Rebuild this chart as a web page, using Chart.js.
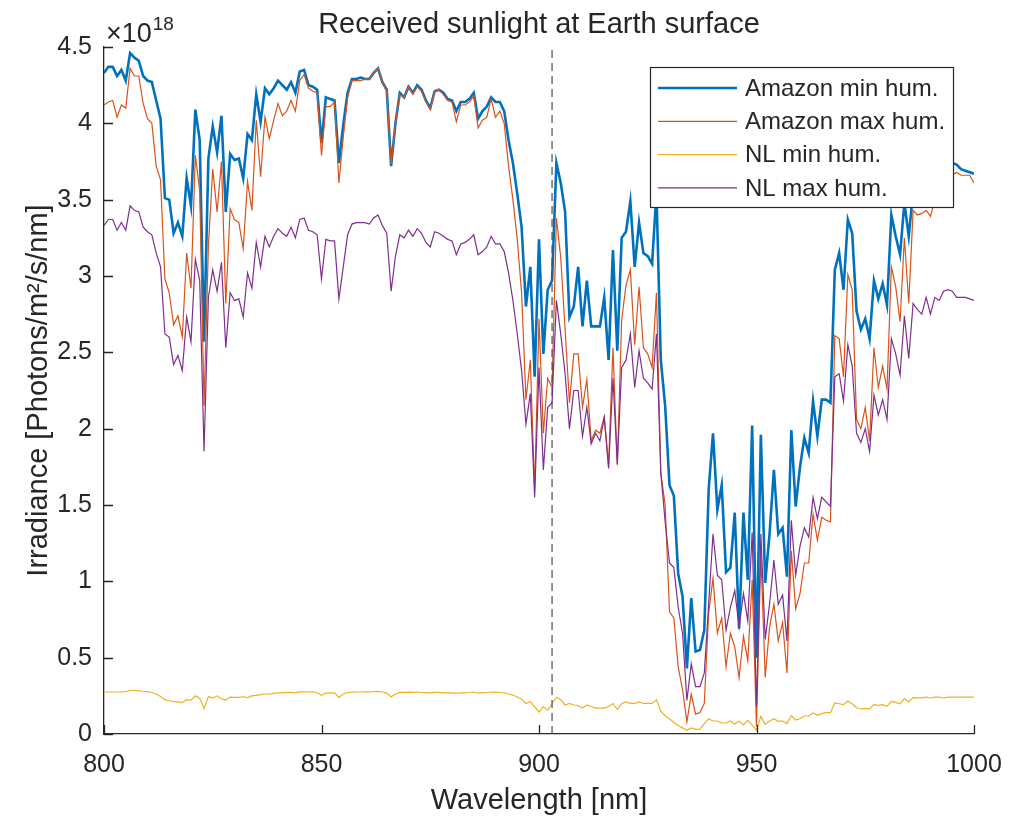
<!DOCTYPE html>
<html>
<head>
<meta charset="utf-8">
<title>Received sunlight at Earth surface</title>
<script src="https://cdn.jsdelivr.net/npm/chart.js@4.4.1/dist/chart.umd.min.js"></script>
<style>
  html, body { margin: 0; padding: 0; background: #fff; }
  #wrap { width: 1009px; height: 821px; }
</style>
</head>
<body>
<div id="wrap"><canvas id="sunChart" width="1009" height="821"></canvas></div>
<script>
// Wavelength grid, 1 nm steps from 800 to 1000 nm
const wavelengths = Array.from({ length: 201 }, (_, i) => 800 + i);

// Irradiance in units of 1e18 photons/m^2/s/nm
const amazonMin = [
  4.33, 4.37, 4.37, 4.31, 4.35, 4.28, 4.46, 4.43, 4.41, 4.31,
  4.28, 4.27, 4.15, 4.03, 3.51, 3.50, 3.28, 3.35, 3.26, 3.64,
  3.46, 4.09, 3.89, 2.57, 3.77, 3.98, 3.81, 4.05, 3.42, 3.80,
  3.76, 3.77, 3.64, 3.93, 3.89, 4.19, 4.01, 4.23, 4.19, 4.23,
  4.28, 4.25, 4.22, 4.27, 4.20, 4.34, 4.35, 4.25, 4.24, 4.22,
  3.87, 4.17, 4.16, 4.15, 3.74, 3.99, 4.20, 4.29, 4.29, 4.30,
  4.29, 4.29, 4.33, 4.36, 4.27, 4.22, 3.72, 4.00, 4.20, 4.17,
  4.24, 4.20, 4.25, 4.22, 4.15, 4.10, 4.21, 4.22, 4.20, 4.16,
  4.15, 4.08, 4.14, 4.14, 4.16, 4.20, 4.03, 4.08, 4.11, 4.17,
  4.14, 4.14, 4.08, 3.89, 3.74, 3.54, 3.32, 2.80, 3.06, 2.34,
  3.24, 2.49, 2.91, 2.97, 3.74, 3.61, 3.42, 2.73, 2.80, 3.06,
  2.67, 2.97, 2.67, 2.67, 2.67, 2.86, 2.45, 3.17, 2.51, 3.25,
  3.29, 3.49, 3.06, 3.35, 3.15, 3.13, 3.08, 3.55, 2.45, 2.15,
  1.63, 1.56, 1.05, 0.90, 0.43, 0.89, 0.54, 0.55, 0.68, 1.60,
  1.97, 1.47, 1.63, 1.06, 1.09, 1.45, 0.69, 1.45, 1.01, 2.02,
  0.50, 1.96, 0.99, 1.31, 1.73, 1.31, 1.35, 1.03, 1.99, 1.49,
  1.75, 1.94, 1.84, 2.18, 1.95, 2.19, 2.19, 2.17, 3.04, 3.15,
  2.91, 3.37, 3.28, 2.77, 2.65, 2.72, 2.59, 2.97, 2.85, 2.95,
  2.81, 3.40, 3.26, 3.14, 3.48, 3.26, 3.55, 3.70, 3.65, 3.75,
  3.72, 3.78, 3.70, 3.76, 3.78, 3.74, 3.73, 3.70, 3.69, 3.68,
  3.67
];

const amazonMax = [
  4.12, 4.14, 4.15, 4.04, 4.12, 4.10, 4.36, 4.31, 4.31, 4.13,
  4.03, 4.00, 3.72, 3.63, 2.98, 2.89, 2.68, 2.74, 2.60, 3.15,
  2.92, 3.79, 3.56, 2.15, 3.20, 3.70, 3.42, 3.75, 2.82, 3.44,
  3.37, 3.35, 3.18, 3.62, 3.43, 4.02, 3.65, 4.04, 3.90, 4.02,
  4.13, 4.05, 4.08, 4.15, 4.08, 4.28, 4.32, 4.23, 4.21, 4.20,
  3.79, 4.11, 4.11, 4.14, 3.61, 3.91, 4.17, 4.28, 4.28, 4.28,
  4.29, 4.29, 4.33, 4.36, 4.27, 4.21, 3.73, 4.00, 4.19, 4.17,
  4.24, 4.19, 4.24, 4.21, 4.14, 4.09, 4.21, 4.22, 4.19, 4.15,
  4.14, 4.01, 4.12, 4.12, 4.14, 4.18, 3.97, 4.02, 4.04, 4.16,
  4.04, 4.08, 4.00, 3.72, 3.50, 3.24, 2.89, 2.19, 2.45, 1.60,
  2.72, 1.97, 2.33, 2.27, 3.38, 3.12, 2.65, 2.17, 2.49, 2.49,
  2.14, 2.32, 1.92, 1.99, 1.97, 2.08, 1.76, 2.53, 1.76, 2.71,
  2.94, 3.04, 2.55, 2.93, 2.53, 2.49, 2.40, 2.89, 1.71, 1.50,
  0.80, 0.76, 0.44, 0.29, 0.08, 0.26, 0.13, 0.14, 0.20, 0.79,
  1.02, 0.66, 0.76, 0.44, 0.66, 0.57, 0.37, 0.64, 0.48, 1.01,
  0.05, 1.18, 0.37, 0.70, 0.85, 0.61, 0.73, 0.40, 1.20, 0.82,
  0.92, 1.12, 1.12, 1.44, 1.27, 1.42, 1.40, 1.39, 2.61, 2.59,
  2.34, 3.01, 2.91, 2.06, 2.00, 2.14, 1.92, 2.53, 2.27, 2.41,
  2.26, 3.06, 2.93, 2.70, 3.25, 2.82, 3.43, 3.40, 3.41, 3.43,
  3.39, 3.50, 3.55, 3.60, 3.62, 3.66, 3.68, 3.66, 3.66, 3.66,
  3.61
];

const nlMin = [
  0.275, 0.275, 0.275, 0.275, 0.276, 0.278, 0.285, 0.285, 0.283, 0.280,
  0.278, 0.272, 0.262, 0.245, 0.225, 0.218, 0.212, 0.210, 0.205, 0.225,
  0.222, 0.250, 0.235, 0.166, 0.245, 0.235, 0.250, 0.230, 0.222, 0.242,
  0.240, 0.240, 0.244, 0.238, 0.250, 0.253, 0.258, 0.262, 0.262, 0.266,
  0.270, 0.270, 0.272, 0.272, 0.270, 0.276, 0.276, 0.275, 0.276, 0.272,
  0.253, 0.268, 0.270, 0.270, 0.240, 0.262, 0.272, 0.274, 0.275, 0.275,
  0.276, 0.276, 0.277, 0.279, 0.275, 0.268, 0.242, 0.262, 0.272, 0.272,
  0.274, 0.273, 0.275, 0.272, 0.271, 0.269, 0.273, 0.273, 0.270, 0.269,
  0.269, 0.266, 0.270, 0.270, 0.272, 0.275, 0.268, 0.271, 0.272, 0.275,
  0.274, 0.272, 0.270, 0.262, 0.255, 0.242, 0.228, 0.200, 0.212, 0.177,
  0.144, 0.180, 0.155, 0.200, 0.240, 0.225, 0.190, 0.200, 0.190, 0.185,
  0.170, 0.190, 0.180, 0.170, 0.170, 0.170, 0.180, 0.200, 0.160, 0.200,
  0.210, 0.200, 0.200, 0.210, 0.200, 0.200, 0.200, 0.225, 0.150, 0.120,
  0.100, 0.075, 0.055, 0.040, 0.024, 0.040, 0.030, 0.032, 0.066, 0.100,
  0.085, 0.085, 0.072, 0.072, 0.085, 0.065, 0.085, 0.060, 0.090, 0.060,
  0.025, 0.116, 0.063, 0.085, 0.100, 0.083, 0.085, 0.068, 0.120, 0.092,
  0.100, 0.118, 0.118, 0.138, 0.122, 0.133, 0.140, 0.140, 0.203, 0.198,
  0.192, 0.216, 0.198, 0.172, 0.164, 0.168, 0.164, 0.194, 0.188, 0.192,
  0.181, 0.214, 0.207, 0.198, 0.232, 0.210, 0.238, 0.236, 0.236, 0.242,
  0.236, 0.242, 0.242, 0.236, 0.242, 0.242, 0.242, 0.242, 0.242, 0.242,
  0.242
];

const nlMax = [
  3.33, 3.37, 3.37, 3.30, 3.35, 3.30, 3.46, 3.43, 3.42, 3.32,
  3.29, 3.27, 3.15, 3.06, 2.62, 2.60, 2.42, 2.48, 2.38, 2.73,
  2.57, 3.11, 2.97, 1.85, 2.86, 3.04, 2.90, 3.09, 2.53, 2.89,
  2.84, 2.85, 2.73, 3.02, 2.92, 3.22, 3.06, 3.26, 3.19, 3.26,
  3.31, 3.28, 3.26, 3.32, 3.25, 3.37, 3.38, 3.30, 3.29, 3.27,
  2.98, 3.24, 3.23, 3.23, 2.85, 3.06, 3.27, 3.34, 3.35, 3.35,
  3.35, 3.34, 3.38, 3.40, 3.33, 3.28, 2.90, 3.13, 3.27, 3.25,
  3.30, 3.26, 3.31, 3.28, 3.22, 3.19, 3.29, 3.28, 3.26, 3.24,
  3.23, 3.14, 3.21, 3.22, 3.24, 3.27, 3.14, 3.16, 3.19, 3.26,
  3.21, 3.21, 3.16, 3.02, 2.84, 2.62, 2.38, 2.03, 2.23, 1.55,
  2.40, 1.73, 2.14, 2.17, 2.84, 2.62, 2.36, 2.00, 2.25, 2.25,
  1.95, 2.14, 1.90, 1.97, 1.92, 2.07, 1.74, 2.33, 1.77, 2.40,
  2.45, 2.62, 2.27, 2.51, 2.33, 2.30, 2.26, 2.62, 1.71, 1.39,
  1.12, 1.09, 0.83, 0.66, 0.22, 0.46, 0.31, 0.31, 0.40, 0.85,
  1.31, 1.04, 1.01, 0.68, 0.83, 0.94, 0.70, 0.92, 0.74, 1.32,
  0.18, 1.31, 0.62, 0.85, 1.14, 0.85, 0.91, 0.61, 1.40, 1.04,
  1.23, 1.35, 1.29, 1.55, 1.41, 1.55, 1.52, 1.49, 2.34, 2.36,
  2.18, 2.55, 2.41, 1.97, 1.91, 2.00, 1.85, 2.22, 2.09, 2.19,
  2.06, 2.59, 2.49, 2.35, 2.74, 2.46, 2.82, 2.78, 2.75, 2.86,
  2.75, 2.86, 2.84, 2.90, 2.91, 2.90, 2.86, 2.86, 2.86, 2.85,
  2.84
];

const seriesNames = ['Amazon min hum.', 'Amazon max hum.', 'NL min hum.', 'NL max hum.'];
const seriesColors = ['#0072BD', '#D95319', '#EDB120', '#7E2F8E'];
const seriesWidths = [2.6, 1.2, 1.2, 1.2];
const markerWavelength = 903;   // dashed reference line
const yTop = 4.5;
const exponent = '18';

const fontFamily = '"Liberation Sans", Arial, Helvetica, sans-serif';
const textColor = '#262626';
const axisColor = '#262626';

const toPoints = (vals) => vals.map((v, i) => ({ x: wavelengths[i], y: v }));

const datasets = [amazonMin, amazonMax, nlMin, nlMax].map((vals, i) => ({
  label: seriesNames[i],
  data: toPoints(vals),
  borderColor: seriesColors[i],
  borderWidth: seriesWidths[i],
  pointRadius: 0,
  tension: 0,
  fill: false,
  order: 10 - i
}));

datasets.push({
  label: 'marker',
  data: [{ x: markerWavelength, y: 0 }, { x: markerWavelength, y: yTop }],
  borderColor: '#4d4d4d',
  borderWidth: 1.2,
  borderDash: [8, 5],
  pointRadius: 0,
  order: 0
});

// MATLAB-like decorations: inward ticks, title, exponent, boxed legend
const matlabStyle = {
  id: 'matlabStyle',
  afterDraw(chart) {
    const { ctx, chartArea: area, scales: { x, y } } = chart;
    ctx.save();

    // inward tick marks
    ctx.strokeStyle = axisColor;
    ctx.lineWidth = 1.3;
    ctx.beginPath();
    y.ticks.forEach(t => {
      const py = Math.round(y.getPixelForValue(t.value)) + 0.5;
      ctx.moveTo(area.left, py);
      ctx.lineTo(area.left + 9, py);
    });
    x.ticks.forEach(t => {
      const px = Math.round(x.getPixelForValue(t.value)) + 0.5;
      ctx.moveTo(px, area.bottom);
      ctx.lineTo(px, area.bottom - 9);
    });
    ctx.stroke();

    // title
    ctx.fillStyle = textColor;
    ctx.font = '29px ' + fontFamily;
    ctx.textAlign = 'center';
    ctx.textBaseline = 'middle';
    ctx.fillText('Received sunlight at Earth surface', (area.left + area.right) / 2, 25);

    // exponent label
    ctx.textAlign = 'left';
    ctx.textBaseline = 'alphabetic';
    ctx.font = '27px ' + fontFamily;
    const base = '\u00d710';
    ctx.fillText(base, area.left + 2, 42);
    const bw = ctx.measureText(base).width;
    ctx.font = '19px ' + fontFamily;
    ctx.fillText(exponent, area.left + 3 + bw, 30);

    // legend box
    const bx = area.right - 21, by = area.top + 20;
    const bwid = 303, bh = 140;
    const left = bx - bwid;
    ctx.fillStyle = '#ffffff';
    ctx.fillRect(left, by, bwid, bh);
    ctx.strokeStyle = axisColor;
    ctx.lineWidth = 1.2;
    ctx.strokeRect(left + 0.5, by + 0.5, bwid, bh);
    ctx.font = '24px ' + fontFamily;
    ctx.textBaseline = 'middle';
    seriesNames.forEach((name, i) => {
      const ry = by + 21 + i * 33.3;
      ctx.strokeStyle = seriesColors[i];
      ctx.lineWidth = seriesWidths[i];
      ctx.beginPath();
      ctx.moveTo(left + 8, ry);
      ctx.lineTo(left + 87, ry);
      ctx.stroke();
      ctx.fillStyle = textColor;
      ctx.fillText(name, left + 95, ry + 1);
    });

    ctx.restore();
  }
};

new Chart(document.getElementById('sunChart'), {
  type: 'line',
  data: { datasets },
  options: {
    responsive: false,
    animation: false,
    events: [],
    layout: { padding: { top: 47, right: 35, left: 0, bottom: 0 } },
    plugins: {
      legend: { display: false },
      tooltip: { enabled: false },
      title: { display: false }
    },
    scales: {
      x: {
        type: 'linear',
        min: 800,
        max: 1000,
        grid: { display: false, drawTicks: false },
        border: { display: true, color: axisColor, width: 1.3 },
        ticks: {
          stepSize: 50,
          autoSkip: false,
          maxRotation: 0,
          padding: 16,
          color: textColor,
          font: { family: fontFamily, size: 25 },
          callback: (v) => String(v)
        },
        title: {
          display: true,
          text: 'Wavelength [nm]',
          color: textColor,
          font: { family: fontFamily, size: 29 },
          padding: { top: 0, bottom: 3 }
        },
        afterFit: (scale) => {
          scale.height = 87;
          // let the layout padding alone decide the right edge
          scale.paddingLeft = 0;
          scale.paddingRight = 0;
        }
      },
      y: {
        min: 0,
        max: yTop,
        grid: { display: false, drawTicks: false },
        border: { display: true, color: axisColor, width: 1.3 },
        ticks: {
          stepSize: 0.5,
          padding: 12,
          color: textColor,
          font: { family: fontFamily, size: 25 },
          callback: (v) => String(v)
        },
        title: {
          display: true,
          text: 'Irradiance [Photons/m\u00b2/s/nm]',
          color: textColor,
          font: { family: fontFamily, size: 29 },
          padding: { top: 22, bottom: 0 }
        },
        afterFit: (scale) => { scale.width = 104; }
      }
    }
  },
  plugins: [matlabStyle]
});
</script>
</body>
</html>
